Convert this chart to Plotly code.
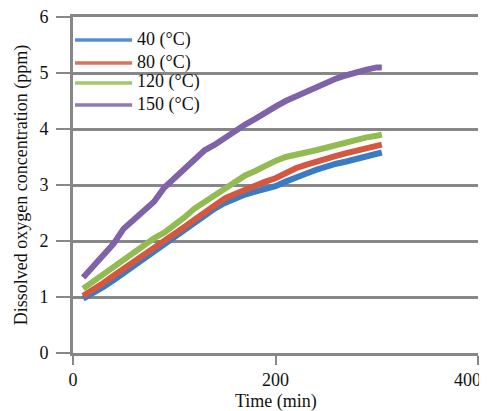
import plotly.graph_objects as go

time_min = [10, 20, 30, 40, 50, 60, 70, 80, 90, 100, 110, 120, 130, 140, 150,
            160, 170, 180, 190, 200, 210, 220, 230, 240, 250, 260, 270, 280, 290, 300, 305]

do_40 = [0.97, 1.06, 1.18, 1.30, 1.43, 1.55, 1.68, 1.80, 1.92, 2.05, 2.18, 2.32, 2.45, 2.58, 2.68,
         2.76, 2.83, 2.88, 2.93, 2.98, 3.06, 3.14, 3.20, 3.27, 3.33, 3.38, 3.42, 3.47, 3.52, 3.56, 3.58]
do_80 = [1.02, 1.12, 1.25, 1.38, 1.50, 1.62, 1.76, 1.88, 2.00, 2.12, 2.25, 2.38, 2.50, 2.65, 2.76,
         2.84, 2.92, 2.98, 3.06, 3.12, 3.22, 3.30, 3.36, 3.42, 3.48, 3.52, 3.57, 3.61, 3.65, 3.70, 3.72]
do_120 = [1.15, 1.28, 1.40, 1.55, 1.68, 1.80, 1.93, 2.05, 2.15, 2.27, 2.42, 2.58, 2.70, 2.82, 2.95,
          3.08, 3.17, 3.25, 3.35, 3.43, 3.50, 3.55, 3.58, 3.62, 3.67, 3.72, 3.77, 3.80, 3.85, 3.88, 3.90]
do_150 = [1.35, 1.55, 1.72, 1.95, 2.22, 2.38, 2.52, 2.70, 2.95, 3.12, 3.30, 3.48, 3.62, 3.72, 3.85,
          3.98, 4.08, 4.18, 4.30, 4.40, 4.50, 4.58, 4.67, 4.75, 4.82, 4.90, 4.96, 5.02, 5.06, 5.10, 5.10]

series_names = ["40 (°C)", "80 (°C)", "120 (°C)", "150 (°C)"]
series_values = [do_40, do_80, do_120, do_150]
colors = ["#3a7cc4", "#d4573f", "#92bb52", "#7f62a8"]
legend_colors = ["#5591d0", "#df6f5e", "#a3c76c", "#9178b7"]

x_ticks = [0, 200, 400]
y_ticks = [0, 1, 2, 3, 4, 5, 6]
x_title = "Time (min)"
y_title = "Dissolved oxygen concentration (ppm)"

font_family = "Liberation Serif"
grid_color = "#878787"
text_color = "#111111"

# legend placement (paper fractions of the plot area)
legend_line_x = (0.005, 0.146)
legend_text_x = 0.153
legend_rows_y = [0.9315, 0.863, 0.8036, 0.738]

fig = go.Figure()
for name, vals, col in zip(series_names, series_values, colors):
    fig.add_trace(go.Scatter(x=time_min, y=vals, mode="lines", name=name,
                             line=dict(color=col, width=6), showlegend=False))

# legend drawn as swatch lines + text labels (matches reference spacing)
for name, col, ry in zip(series_names, legend_colors, legend_rows_y):
    fig.add_shape(type="line", xref="paper", yref="paper",
                  x0=legend_line_x[0], x1=legend_line_x[1], y0=ry, y1=ry,
                  line=dict(color=col, width=3.5))
    fig.add_annotation(text=name, xref="paper", yref="paper", x=legend_text_x, y=ry,
                       xanchor="left", yanchor="middle", showarrow=False, yshift=1,
                       font=dict(family=font_family, size=18, color=text_color))

# last x tick label, pulled inward like the reference
fig.add_annotation(text=str(x_ticks[-1]), xref="x", yref="paper", x=x_ticks[-1], y=0,
                   xanchor="center", yanchor="middle", xshift=-11, yshift=-27, showarrow=False,
                   font=dict(family=font_family, size=18, color=text_color))
# x-axis title
fig.add_annotation(text=x_title, xref="paper", yref="paper", x=0.5, y=0,
                   xanchor="center", yanchor="middle", yshift=-48, showarrow=False,
                   font=dict(family=font_family, size=18, color=text_color))

fig.update_layout(
    width=487, height=411,
    margin=dict(l=65, r=17, t=9, b=66),
    paper_bgcolor="white", plot_bgcolor="white",
    font=dict(family=font_family, size=18, color=text_color),
    showlegend=False,
)
fig.update_xaxes(range=[0, 400], tickvals=x_ticks,
                 ticktext=[str(v) for v in x_ticks[:-1]] + [""],
                 showgrid=False, zeroline=False, automargin=False,
                 showline=True, mirror=True, linecolor=grid_color, linewidth=2.7,
                 ticks="outside", ticklen=9, tickwidth=2, tickcolor=grid_color,
                 ticklabelstandoff=0, ticklabeloverflow="allow",
                 tickfont=dict(size=18))
fig.update_yaxes(range=[0, 6], tickvals=y_ticks, ticktext=[str(v) for v in y_ticks],
                 showgrid=True, gridcolor=grid_color, gridwidth=2.7,
                 zeroline=False, showline=True, linecolor=grid_color, linewidth=3,
                 automargin=False,
                 ticks="outside", ticklen=14, tickwidth=2, tickcolor=grid_color,
                 ticklabelstandoff=4, ticklabeloverflow="allow",
                 title=dict(text=y_title, standoff=8, font=dict(size=18)),
                 tickfont=dict(size=18))

fig.write_html("out.html")
